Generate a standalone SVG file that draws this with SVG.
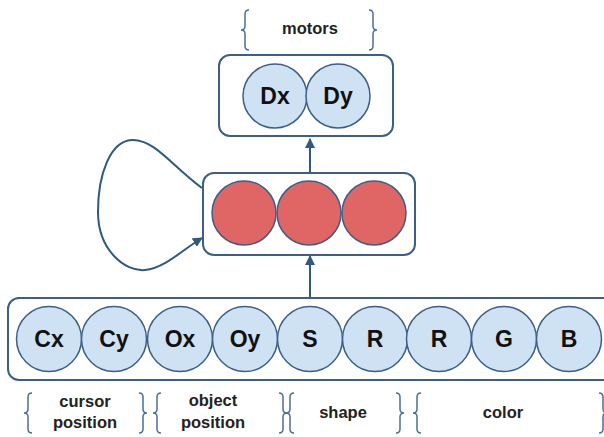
<svg xmlns="http://www.w3.org/2000/svg" width="604" height="437" viewBox="0 0 604 437">
<style>
.box{fill:none;stroke:#3b5f86;stroke-width:2}
.in{fill:#cfe2f3;stroke:#3b5f86;stroke-width:1.5}
.hid{fill:#e06666;stroke:#3b5f86;stroke-width:1.5}
.lbl{font-family:"Liberation Sans",Arial,sans-serif;font-weight:bold;font-size:23px;fill:#111;text-anchor:middle}
.cap{font-family:"Liberation Sans",Arial,sans-serif;font-weight:bold;font-size:16.5px;fill:#222;text-anchor:middle}
.brace{fill:none;stroke:#4a6f96;stroke-width:1.5}
.conn{fill:none;stroke:#2f5882;stroke-width:2}
</style>
<defs>
<marker id="ah" viewBox="0 0 10 10" refX="9" refY="5" markerWidth="5" markerHeight="5" orient="auto">
<path d="M0,0 L10,5 L0,10 Z" fill="#2f5882"/>
</marker>
</defs>
<rect width="604" height="437" fill="#fff"/>
<g id="connectors">
<line class="conn" x1="310" y1="173" x2="310" y2="139" marker-end="url(#ah)"/>
<line class="conn" x1="310" y1="297" x2="310" y2="256" marker-end="url(#ah)"/>
<path class="conn" d="M202,188 C172,166 155,140 133,140 C110,140 98,175 98,212 C98,250 125,272 145,270 C165,268 185,248 202,238" marker-end="url(#ah)"/>
</g>
<g id="motors-label">
<path class="brace" d="M249,10 Q245,10 245,14 L245,26 Q245,30 241,30 Q245,30 245,34 L245,46 Q245,50 249,50"/>
<path class="brace" d="M369,10 Q373,10 373,14 L373,26 Q373,30 377,30 Q373,30 373,34 L373,46 Q373,50 369,50"/>
<text class="cap" x="310" y="34">motors</text>
</g>
<g id="output-layer">
<rect class="box" x="219" y="55" width="174" height="81" rx="11"/>
<circle class="in" cx="275" cy="96" r="32"/>
<circle class="in" cx="338" cy="96" r="32"/>
<text class="lbl" x="275" y="104">Dx</text>
<text class="lbl" x="338" y="104">Dy</text>
</g>
<g id="hidden-layer">
<rect class="box" x="203" y="173" width="212" height="82" rx="11"/>
<circle class="hid" cx="244" cy="213" r="32"/>
<circle class="hid" cx="309" cy="213" r="32"/>
<circle class="hid" cx="374" cy="213" r="32"/>
</g>
<g id="input-layer">
<rect class="box" x="8" y="298" width="606" height="82" rx="11"/>
<circle class="in" cx="49" cy="339" r="32.5"/>
<circle class="in" cx="114" cy="339" r="32.5"/>
<circle class="in" cx="180" cy="339" r="32.5"/>
<circle class="in" cx="245" cy="339" r="32.5"/>
<circle class="in" cx="310" cy="339" r="32.5"/>
<circle class="in" cx="375" cy="339" r="32.5"/>
<circle class="in" cx="439" cy="339" r="32.5"/>
<circle class="in" cx="504" cy="339" r="32.5"/>
<circle class="in" cx="569" cy="339" r="32.5"/>
<text class="lbl" x="49" y="347">Cx</text>
<text class="lbl" x="114" y="347">Cy</text>
<text class="lbl" x="180" y="347">Ox</text>
<text class="lbl" x="245" y="347">Oy</text>
<text class="lbl" x="310" y="347">S</text>
<text class="lbl" x="375" y="347">R</text>
<text class="lbl" x="439" y="347">R</text>
<text class="lbl" x="504" y="347">G</text>
<text class="lbl" x="569" y="347">B</text>
</g>
<g id="input-labels">
<path class="brace" d="M32,393 Q28,393 28,397 L28,409 Q28,413 24,413 Q28,413 28,417 L28,429 Q28,433 32,433"/>
<path class="brace" d="M139,393 Q143,393 143,397 L143,409 Q143,413 147,413 Q143,413 143,417 L143,429 Q143,433 139,433"/>
<text class="cap" x="85" y="407">cursor</text>
<text class="cap" x="85" y="428">position</text>
<path class="brace" d="M161,393 Q157,393 157,397 L157,409 Q157,413 153,413 Q157,413 157,417 L157,429 Q157,433 161,433"/>
<path class="brace" d="M279,393 Q283,393 283,397 L283,409 Q283,413 287,413 Q283,413 283,417 L283,429 Q283,433 279,433"/>
<text class="cap" x="213" y="406">object</text>
<text class="cap" x="213" y="428">position</text>
<path class="brace" d="M294,393 Q290,393 290,397 L290,409 Q290,413 286,413 Q290,413 290,417 L290,429 Q290,433 294,433"/>
<path class="brace" d="M396,393 Q400,393 400,397 L400,409 Q400,413 404,413 Q400,413 400,417 L400,429 Q400,433 396,433"/>
<text class="cap" x="343" y="418">shape</text>
<path class="brace" d="M421,393 Q417,393 417,397 L417,409 Q417,413 413,413 Q417,413 417,417 L417,429 Q417,433 421,433"/>
<path class="brace" d="M599,393 Q603,393 603,397 L603,409 Q603,413 607,413 Q603,413 603,417 L603,429 Q603,433 599,433"/>
<text class="cap" x="503" y="418">color</text>
</g>
</svg>
